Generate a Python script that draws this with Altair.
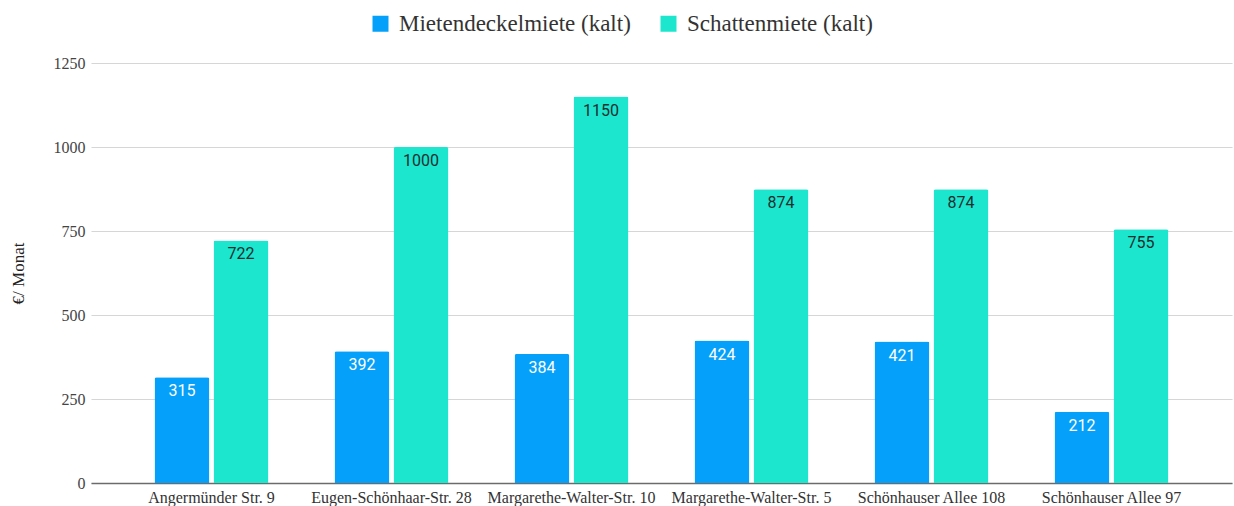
import altair as alt
import pandas as pd

# Monthly cold rent per address: rent-cap rent vs. shadow rent
adressen = [
    "Angermünder Str. 9",
    "Eugen-Schönhaar-Str. 28",
    "Margarethe-Walter-Str. 10",
    "Margarethe-Walter-Str. 5",
    "Schönhauser Allee 108",
    "Schönhauser Allee 97",
]
serien = ["Mietendeckelmiete (kalt)", "Schattenmiete (kalt)"]
mietendeckel = [315, 392, 384, 424, 421, 212]
schatten = [722, 1000, 1150, 874, 874, 755]
farben = ["#05A0FA", "#1DE6CE"]
y_ticks = [0, 250, 500, 750, 1000, 1250]

rows = []
for a, m, s in zip(adressen, mietendeckel, schatten):
    rows.append({"Adresse": a, "Serie": serien[0], "Wert": m})
    rows.append({"Adresse": a, "Serie": serien[1], "Wert": s})
df = pd.DataFrame(rows)

serif = "Liberation Serif"
sans = "Roboto"

x_enc = alt.X(
    "Adresse:N",
    sort=adressen,
    title=None,
    scale=alt.Scale(paddingInner=0.367, paddingOuter=0.353),
    axis=alt.Axis(
        labelAngle=0,
        labelFont=serif,
        labelFontSize=16,
        labelColor="#333333",
        labelPadding=6,
        labelLimit=300,
        ticks=False,
        grid=False,
        domain=True,
        domainColor="#6b6b6b",
        domainWidth=1.5,
    ),
)
xoff_enc = alt.XOffset(
    "Serie:N", sort=serien, scale=alt.Scale(paddingInner=0.07, paddingOuter=0)
)
y_enc = alt.Y(
    "Wert:Q",
    title="€/ Monat",
    scale=alt.Scale(domain=[0, 1250], nice=False),
    axis=alt.Axis(
        values=y_ticks,
        format="d",
        labelFont=serif,
        labelFontSize=16,
        labelColor="#444444",
        labelPadding=6,
        ticks=False,
        domain=False,
        gridColor="#d6d6d6",
        gridWidth=1,
        titleFont=serif,
        titleFontSize=17,
        titleFontWeight="normal",
        titleColor="#222222",
        titlePadding=26,
    ),
)

bars = alt.Chart(df).mark_bar(cornerRadiusTopLeft=2, cornerRadiusTopRight=2).encode(
    x=x_enc,
    xOffset=xoff_enc,
    y=y_enc,
    color=alt.Color(
        "Serie:N",
        sort=serien,
        scale=alt.Scale(domain=serien, range=farben),
        legend=alt.Legend(
            title=None,
            orient="none",
            direction="horizontal",
            legendX=278,
            legendY=-51,
            symbolType="square",
            symbolSize=256,
            symbolStrokeWidth=0,
            labelFont=serif,
            labelFontSize=23,
            labelColor="#333333",
            labelLimit=400,
            labelOffset=7,
            columnPadding=26,
        ),
    ),
)

labels = alt.Chart(df).mark_text(
    baseline="middle", dy=14, font=sans, fontSize=16
).encode(
    x=alt.X("Adresse:N", sort=adressen),
    xOffset=alt.XOffset("Serie:N", sort=serien),
    y=alt.Y("Wert:Q"),
    text=alt.Text("Wert:Q"),
    color=alt.condition(
        alt.datum.Serie == serien[0], alt.value("#ffffff"), alt.value("#1a3030")
    ),
)

chart = (
    alt.layer(bars, labels)
    .properties(
        width=1141,
        height=420,
        background="white",
        autosize=alt.AutoSizeParams(type="none"),
        padding={"left": 91, "top": 63, "right": 2, "bottom": 23},
    )
    .configure_view(stroke=None, strokeWidth=0)
)

chart.save("out.html", embed_options={"renderer": "svg", "actions": False})
